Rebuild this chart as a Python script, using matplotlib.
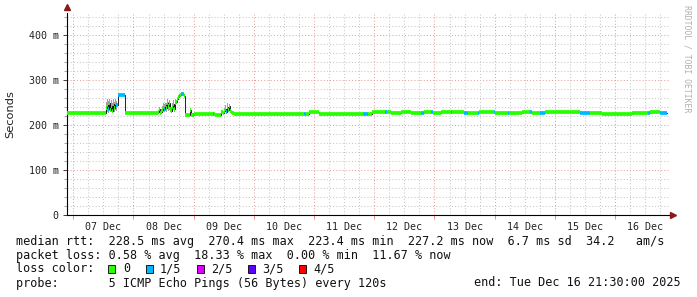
import matplotlib
matplotlib.use("Agg")
import matplotlib.pyplot as plt
from matplotlib.patches import Rectangle
import numpy as np

# time axis: hours since graph start (Sat 2025-12-06 21:30), 10 days shown
seg_start = [0.0, 15.6, 16.0, 16.4, 16.8, 17.2, 17.6, 18.0, 18.4, 18.8, 19.2, 19.6, 20.2,
             23.0, 36.4, 36.8, 37.2, 37.6, 38.0, 38.4, 38.8, 39.2, 39.6, 40.0, 40.4, 40.8,
             41.2, 41.6, 42.0, 42.4, 42.8, 43.2, 43.6, 44.0, 44.4, 44.8, 45.2, 45.6, 46.0,
             46.4, 46.8, 47.2, 49.2, 49.6, 50.4, 50.8, 58.4, 58.8, 59.2, 61.2, 61.6, 62.0,
             62.4, 62.8, 63.2, 63.6, 64.0, 64.4, 64.8, 65.2, 65.6, 66.4, 94.4, 95.2, 96.4,
             100.4, 118.0, 120.0, 121.6, 126.8, 127.6, 129.2, 133.2, 137.2, 141.2, 142.4,
             145.2, 146.0, 149.2, 153.2, 153.6, 158.4, 160.0, 164.0, 164.4, 170.4, 170.8,
             176.0, 176.4, 181.2, 184.4, 185.2, 188.4, 190.4, 204.4, 208.4, 213.2, 219.2,
             225.2, 231.6, 232.4, 236.4]
median_ms = [226, 238, 244, 236, 248, 234, 242, 232, 246, 238, 250, 244, 266,
             226, 228, 236, 226, 230, 234, 240, 236, 244, 238, 250, 242, 248,
             236, 232, 240, 246, 236, 248, 252, 258, 262, 264, 266, 268, 270,
             268, 264, 223, 233, 222, 222, 224, 224, 224, 222, 228, 230, 227,
             232, 236, 229, 240, 234, 242, 231, 228, 226, 225, 225, 225, 228,
             225, 225, 225, 228, 228, 228, 226, 229, 226, 226, 228,
             228, 226, 229, 229, 228, 227, 226, 226, 229, 229, 227,
             227, 226, 228, 228, 227, 227, 228, 226, 227, 224, 225,
             227, 226, 228, 226]
lost_pings = [0, 0, 0, 1, 0, 0, 0, 0, 0, 0, 0, 1, 1,
              0, 0, 0, 0, 0, 0, 0, 1, 0, 0, 0, 0, 0,
              0, 0, 0, 0, 0, 0, 0, 0, 0, 1, 0, 1, 1,
              1, 0, 0, 0, 0, 1, 0, 1, 0, 0, 0, 0, 0,
              0, 0, 1, 0, 0, 0, 0, 0, 0, 0, 1, 0, 0,
              0, 1, 0, 0, 1, 0, 0, 0, 0, 1, 0,
              1, 0, 0, 1, 0, 1, 0, 1, 0, 1, 0,
              1, 0, 0, 1, 0, 1, 0, 1, 0, 0, 0,
              0, 1, 0, 1]
data_end = 239.2

# smoke (spread of the 5 pings) during the busy periods
smoke_t = [15.6, 16.0, 16.4, 16.8, 17.2, 17.6, 18.0, 18.4, 18.8, 19.2, 19.6,
           36.8, 37.2, 37.6, 38.0, 38.4, 38.8, 39.2, 39.6, 40.0, 40.4, 40.8, 41.2, 41.6,
           42.0, 42.4, 42.8, 43.2,
           62.4, 62.8, 63.2, 63.6, 64.0, 64.4, 64.8]
smoke_lo = [228, 230, 226, 232, 228, 230, 226, 230, 228, 234, 232,
            226, 225, 226, 228, 230, 228, 232, 230, 236, 232, 234, 228, 226,
            230, 234, 228, 236,
            226, 228, 226, 230, 228, 232, 226]
smoke_hi = [252, 258, 254, 258, 250, 256, 248, 258, 252, 258, 254,
            240, 230, 236, 242, 248, 246, 250, 248, 258, 252, 256, 246, 240,
            250, 256, 246, 258,
            238, 244, 236, 249, 240, 246, 234]

day_labels = ["07 Dec", "08 Dec", "09 Dec", "10 Dec", "11 Dec",
              "12 Dec", "13 Dec", "14 Dec", "15 Dec", "16 Dec"]
loss_labels = ["0", "1/5", "2/5", "3/5", "4/5"]
loss_colors = ["#26ff00", "#00b8ff", "#dd00ff", "#5e00ff", "#ff0000"]
y_ticks = [0, 100, 200, 300, 400]
y_tick_labels = ["0", "100 m", "200 m", "300 m", "400 m"]

stats_lines = [
    "median rtt:  228.5 ms avg  270.4 ms max  223.4 ms min  227.2 ms now  6.7 ms sd  34.2   am/s",
    "packet loss: 0.58 % avg  18.33 % max  0.00 % min  11.67 % now",
    "loss color:",
    "probe:       5 ICMP Echo Pings (56 Bytes) every 120s",
]
end_label = "end: Tue Dec 16 21:30:00 2025"

W, H = 697, 297
mono = "DejaVu Sans Mono"

fig = plt.figure(figsize=(W / 100, H / 100), dpi=100, facecolor="white")
ax = fig.add_axes([67 / W, 1 - 215 / H, (669 - 67) / W, (215 - 13) / H])
ax.set_xlim(0, 240)
ax.set_ylim(0, 449)

# grid (rrdtool style dotted lines)
dot = (0, (1, 2))
for y in np.arange(20, 449, 20):
    if y % 100:
        ax.axhline(y, color="#c8c8c8", lw=0.75, ls=dot, zorder=0)
    else:
        ax.axhline(y, color="#e8a0a0", lw=0.75, ls=dot, zorder=0)
midnights = np.arange(2.5, 240, 24)
for x in np.arange(2.5, 240, 6):
    if x in midnights:
        ax.axvline(x, color="#e8a0a0", lw=0.75, ls=dot, zorder=0)
    else:
        ax.axvline(x, color="#c8c8c8", lw=0.75, ls=dot, zorder=0)

# smoke
ax.bar(smoke_t, np.subtract(smoke_hi, smoke_lo), bottom=smoke_lo, width=0.4,
       align="edge", color="#a0a0a0", lw=0, zorder=1)

# median line: black steps, colored by loss on the flat parts
seg_end = seg_start[1:] + [data_end]
ax.step(seg_start + [data_end], median_ms + [median_ms[-1]], where="post",
        color="black", lw=0.6, zorder=2)
ax.hlines(median_ms, seg_start, seg_end,
          colors=[loss_colors[k] for k in lost_pings], lw=2.7, zorder=3)

# axes
for side in ("top", "right"):
    ax.spines[side].set_visible(False)
for side in ("left", "bottom"):
    ax.spines[side].set_color("black")
    ax.spines[side].set_linewidth(0.8)
ax.plot([0], [462], marker="^", ms=5, color="#8b1a1a", clip_on=False, zorder=5)
ax.plot([241.5], [0], marker=">", ms=5, color="#8b1a1a", clip_on=False, zorder=5)

ax.set_yticks(y_ticks)
ax.set_yticklabels(y_tick_labels, fontfamily=mono, fontsize=7.2)
ax.set_yticks(np.arange(20, 449, 20), minor=True)
ax.tick_params(axis="y", which="major", length=3, width=0.6, pad=3, colors="#222222")
ax.tick_params(axis="y", which="minor", length=2, width=0.5, color="#888888")

ax.set_xticks(midnights)
ax.set_xticklabels([])
ax.set_xticks(np.arange(14.5, 240, 24), minor=True)
ax.set_xticklabels(day_labels, minor=True, fontfamily=mono, fontsize=7.2)
ax.tick_params(axis="x", which="major", length=3, width=0.6, color="#e08080")
ax.tick_params(axis="x", which="minor", length=0, pad=5, labelcolor="#222222")

fig.text(10 / W, 1 - 114 / H, "Seconds", rotation=90, ha="center", va="center",
         fontsize=8.2, color="#222222")
fig.text(687 / W, 1 - 59 / H, "RRDTOOL / TOBI OETIKER", rotation=270, ha="center",
         va="center", fontfamily=mono, fontsize=5.9, color="#b0b0b0")

# legend / statistics block
for i, line in enumerate(stats_lines):
    fig.text(16 / W, 1 - (241 + 14 * i) / H, line, ha="left", va="center",
             fontfamily=mono, fontsize=8.5, color="#111111")
fig.text(681 / W, 1 - 283 / H, end_label, ha="right", va="center",
         fontfamily=mono, fontsize=8.5, color="#111111")

box_x = [108, 146, 197, 248, 299]
label_x = [123, 160, 211, 262, 313]
for bx, lx, lab, col in zip(box_x, label_x, loss_labels, loss_colors):
    fig.patches.append(Rectangle((bx / W, 1 - 273 / H), 7 / W, 8 / H,
                                 transform=fig.transFigure, facecolor=col,
                                 edgecolor="black", lw=0.6))
    fig.text(lx / W, 1 - 269 / H, lab, ha="left", va="center",
             fontfamily=mono, fontsize=8.5, color="#111111")

fig.savefig("out.png", dpi=100, facecolor="white")
